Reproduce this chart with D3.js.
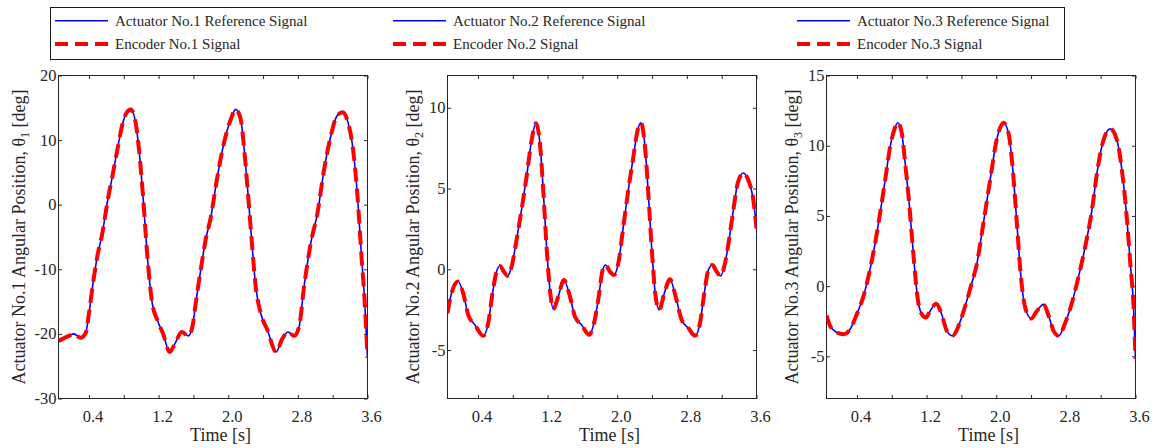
<!DOCTYPE html>
<html>
<head>
<meta charset="utf-8">
<script src="https://cdn.jsdelivr.net/npm/d3@7"></script>
<style>
  html, body { margin: 0; padding: 0; background: #fff; }
  svg { display: block; }
  svg text { font-family: "Liberation Serif", "Times New Roman", "DejaVu Serif", serif; }
</style>
</head>
<body>
<svg id="chart" width="1156" height="448"></svg>
<script>
// ---- data -------------------------------------------------------------
// Time axis ticks (s); labels only on every other tick
const timeTicks = [0.4, 0.8, 1.2, 1.6, 2.0, 2.4, 2.8, 3.2, 3.6];
const timeTickLabels = ["0.4", "", "1.2", "", "2.0", "", "2.8", "", "3.6"];

// Angular-position ticks (deg) per actuator
const yTicks1 = [-30, -20, -10, 0, 10, 20];
const yTicks2 = [-5, 0, 5, 10];
const yTicks3 = [-5, 0, 5, 10, 15];

// Actuator No.1: [time s, angle deg]
const actuator1 = [
  [0.05, -21.1], [0.17, -20.3], [0.227, -20.0], [0.304, -20.6], [0.362, -19.9],
  [0.40, -16.8], [0.446, -12.2], [0.496, -8.0], [0.554, -4.4], [0.61, 0.3],
  [0.669, 4.4], [0.726, 8.5], [0.784, 12.4], [0.83, 14.2], [0.879, 14.75],
  [0.929, 13.2], [0.975, 8.5], [1.021, 1.3], [1.071, -8.0], [1.121, -14.75],
  [1.186, -17.9], [1.25, -19.9], [1.327, -22.8], [1.388, -21.5], [1.465, -19.7],
  [1.542, -20.3], [1.588, -18.9], [1.626, -15.3], [1.684, -10.1], [1.741, -5.4],
  [1.799, -2.0], [1.876, 4.4], [1.952, 9.6], [2.029, 13.2], [2.086, 14.75],
  [2.144, 13.2], [2.18, 9.05], [2.22, 2.85], [2.266, -4.9], [2.316, -12.7],
  [2.373, -16.8], [2.45, -19.4], [2.549, -22.8], [2.623, -20.7], [2.687, -19.7],
  [2.756, -20.3], [2.814, -18.9], [2.871, -12.7], [2.948, -5.95], [3.025, -1.3],
  [3.101, 5.4], [3.178, 10.6], [3.247, 13.7], [3.312, 14.3], [3.377, 12.7],
  [3.439, 8.0], [3.485, 1.3], [3.531, -8.0], [3.569, -15.3], [3.6, -23.7]
];

// Actuator No.2
const actuator2 = [
  [0.05, -2.72], [0.096, -1.48], [0.173, -0.76], [0.23, -1.48], [0.288, -2.82],
  [0.365, -3.44], [0.46, -4.12], [0.518, -3.33], [0.567, -1.48], [0.613, -0.15],
  [0.652, 0.2], [0.698, -0.15], [0.74, -0.41], [0.786, 0.16], [0.843, 1.81],
  [0.9, 3.66], [0.958, 5.72], [1.016, 7.98], [1.066, 9.05], [1.112, 7.78],
  [1.15, 4.9], [1.188, 1.4], [1.227, -1.28], [1.265, -2.47], [1.322, -1.69],
  [1.388, -0.66], [1.457, -1.69], [1.514, -2.93], [1.59, -3.44], [1.679, -4.06],
  [1.733, -3.33], [1.782, -1.9], [1.832, -0.04], [1.866, 0.27], [1.917, -0.15],
  [1.963, -0.35], [2.012, 0.37], [2.07, 2.63], [2.127, 4.9], [2.185, 6.95],
  [2.234, 8.6], [2.273, 9.07], [2.319, 7.57], [2.357, 4.69], [2.395, 1.4],
  [2.441, -1.69], [2.483, -2.51], [2.541, -1.48], [2.606, -0.62], [2.671, -1.69],
  [2.74, -3.13], [2.817, -3.64], [2.894, -4.12], [2.951, -3.33], [3.0, -1.48],
  [3.047, -0.04], [3.093, 0.27], [3.142, -0.15], [3.188, -0.41], [3.238, 0.37],
  [3.284, 1.81], [3.334, 3.66], [3.383, 5.31], [3.449, 5.96], [3.506, 5.51],
  [3.564, 4.28], [3.6, 2.53]
];

// Actuator No.3
const actuator3 = [
  [0.05, -2.08], [0.091, -2.83], [0.168, -3.3], [0.245, -3.42], [0.321, -3.07],
  [0.398, -2.0], [0.475, -0.71], [0.533, 0.71], [0.609, 3.07], [0.666, 5.2],
  [0.724, 7.56], [0.781, 9.92], [0.832, 11.2], [0.87, 11.64], [0.916, 10.86],
  [0.954, 8.74], [1.0, 5.9], [1.05, 2.13], [1.099, -0.94], [1.145, -2.0],
  [1.191, -2.24], [1.241, -1.77], [1.31, -1.25], [1.367, -1.89], [1.433, -3.19],
  [1.498, -3.54], [1.567, -2.83], [1.643, -1.42], [1.72, 0.24], [1.778, 1.6],
  [1.835, 3.78], [1.93, 7.56], [2.008, 10.5], [2.084, 11.64], [2.142, 10.86],
  [2.191, 8.26], [2.237, 4.49], [2.283, 0.71], [2.333, -1.53], [2.402, -2.31],
  [2.467, -1.77], [2.544, -1.3], [2.602, -2.12], [2.659, -3.19], [2.717, -3.54],
  [2.793, -2.6], [2.87, -1.18], [2.947, 0.71], [3.023, 2.83], [3.1, 5.43],
  [3.157, 8.03], [3.226, 10.27], [3.31, 11.2], [3.387, 10.39], [3.444, 8.26],
  [3.502, 4.72], [3.54, 1.65], [3.579, -1.65], [3.6, -5.19]
];

// Legend entries
const referenceNames = ["Actuator No.1 Reference Signal", "Actuator No.2 Reference Signal", "Actuator No.3 Reference Signal"];
const encoderNames = ["Encoder No.1 Signal", "Encoder No.2 Signal", "Encoder No.3 Signal"];
const actuatorIds = ["1", "2", "3"];

// ---- drawing ------------------------------------------------------------
const svg = d3.select("#chart");
const axisColor = "#262626";
const blue = "#0000ff", red = "#ff0000";
const dash = "14,7";
const redWidth = 4, blueWidth = 1.6;

const panels = [
  { data: actuator1, yDomain: [-30, 20], yTicks: yTicks1, left: 58.5, labelGap: 34 },
  { data: actuator2, yDomain: [-8, 12],  yTicks: yTicks2, left: 447.5, labelGap: 28.5 },
  { data: actuator3, yDomain: [-8, 15],  yTicks: yTicks3, left: 826.5, labelGap: 28.5 }
];
const plotTop = 75.5, plotBottom = 398.5, plotWidth = 309, tickLen = 3.5;

panels.forEach((p, i) => {
  const x = d3.scaleLinear().domain([0.05, 3.6]).range([p.left, p.left + plotWidth]);
  const y = d3.scaleLinear().domain(p.yDomain).range([plotBottom, plotTop]);
  const g = svg.append("g");

  // clip to the axes box
  const clipId = "clip" + i;
  svg.append("clipPath").attr("id", clipId)
    .append("rect").attr("x", p.left).attr("y", plotTop)
    .attr("width", plotWidth).attr("height", plotBottom - plotTop);

  // axes with inward ticks on all four sides
  const axB = d3.axisBottom(x).tickValues(timeTicks).tickSize(tickLen).tickFormat("");
  const axT = d3.axisTop(x).tickValues(timeTicks).tickSize(tickLen).tickFormat("");
  const axL = d3.axisLeft(y).tickValues(p.yTicks).tickSize(tickLen).tickFormat("");
  const axR = d3.axisRight(y).tickValues(p.yTicks).tickSize(tickLen).tickFormat("");
  const styleAxis = sel => {
    sel.select(".domain").remove();
    sel.selectAll(".tick line").attr("stroke", axisColor).attr("stroke-width", 1);
  };
  g.append("g").attr("transform", `translate(0,${plotBottom})`).call(axB).call(styleAxis)
    .selectAll(".tick line").attr("y2", -tickLen);
  g.append("g").attr("transform", `translate(0,${plotTop})`).call(axT).call(styleAxis)
    .selectAll(".tick line").attr("y2", tickLen);
  g.append("g").attr("transform", `translate(${p.left},0)`).call(axL).call(styleAxis)
    .selectAll(".tick line").attr("x2", tickLen);
  g.append("g").attr("transform", `translate(${p.left + plotWidth},0)`).call(axR).call(styleAxis)
    .selectAll(".tick line").attr("x2", -tickLen);

  // box
  g.append("rect").attr("x", p.left).attr("y", plotTop)
    .attr("width", plotWidth).attr("height", plotBottom - plotTop)
    .attr("fill", "none").attr("stroke", axisColor).attr("stroke-width", 1);

  // tick labels
  g.selectAll(".xlab").data(timeTicks.map((t, k) => ({ t, label: timeTickLabels[k] })).filter(d => d.label))
    .join("text")
    .attr("x", d => x(d.t) + 4).attr("y", 422)
    .attr("text-anchor", "middle").attr("font-size", 16.5).attr("fill", axisColor)
    .text(d => d.label);
  g.selectAll(".ylab").data(p.yTicks).join("text")
    .attr("x", p.left - 2).attr("y", d => y(d) + 5.5)
    .attr("text-anchor", "end").attr("font-size", 16.5).attr("fill", axisColor)
    .text(d => d);

  // axis titles
  g.append("text").attr("x", p.left + plotWidth / 2 + 7.5).attr("y", 441)
    .attr("text-anchor", "middle").attr("font-size", 18).attr("fill", axisColor)
    .text("Time [s]");
  const yt = g.append("text")
    .attr("transform", `translate(${p.left - p.labelGap},${(plotTop + plotBottom) / 2}) rotate(-90)`)
    .attr("text-anchor", "middle").attr("font-size", 18).attr("fill", axisColor);
  yt.append("tspan").text(`Actuator No.${actuatorIds[i]} Angular Position, \u03b8`);
  yt.append("tspan").attr("font-size", 12).attr("baseline-shift", "-4").text(actuatorIds[i]);
  yt.append("tspan").text(" [deg]");

  // signals: reference (solid blue) under encoder (dashed red)
  const line = d3.line().x(d => x(d[0])).y(d => y(d[1])).curve(d3.curveMonotoneX);
  const plot = g.append("g").attr("clip-path", `url(#${clipId})`);
  plot.append("path").datum(p.data).attr("d", line)
    .attr("fill", "none").attr("stroke", blue).attr("stroke-width", blueWidth);
  plot.append("path").datum(p.data).attr("d", line)
    .attr("fill", "none").attr("stroke", red).attr("stroke-width", redWidth)
    .attr("stroke-dasharray", dash);
});

// ---- legend ---------------------------------------------------------------
const legend = svg.append("g");
legend.append("rect").attr("x", 50.5).attr("y", 7.5).attr("width", 1014).attr("height", 52)
  .attr("fill", "#fff").attr("stroke", "#1a1a1a").attr("stroke-width", 1);
const colX = [55, 393, 797];
const rowY = [20.7, 44];
colX.forEach((cx, k) => {
  legend.append("line").attr("x1", cx).attr("x2", cx + 53).attr("y1", rowY[0]).attr("y2", rowY[0])
    .attr("stroke", blue).attr("stroke-width", blueWidth);
  legend.append("text").attr("x", cx + 60).attr("y", rowY[0] + 5.3)
    .attr("font-size", 15).attr("fill", axisColor).text(referenceNames[k]);
  legend.append("line").attr("x1", cx).attr("x2", cx + 53).attr("y1", rowY[1]).attr("y2", rowY[1])
    .attr("stroke", red).attr("stroke-width", redWidth).attr("stroke-dasharray", "13,7");
  legend.append("text").attr("x", cx + 60).attr("y", rowY[1] + 5.3)
    .attr("font-size", 15).attr("fill", axisColor).text(encoderNames[k]);
});
</script>
</body>
</html>
